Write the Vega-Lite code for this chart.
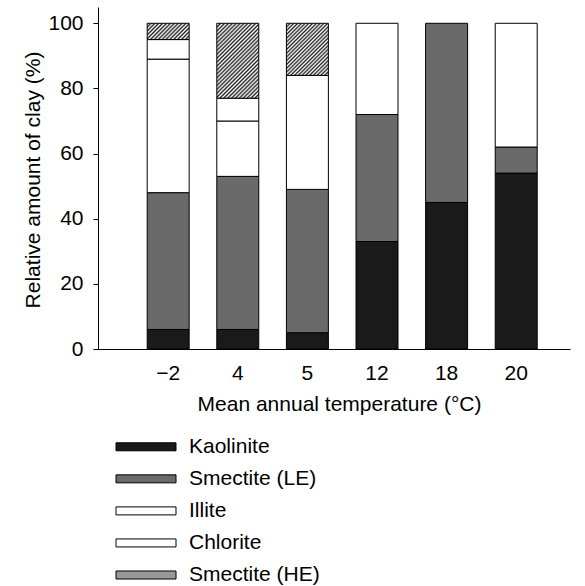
{
  "$schema": "https://vega.github.io/schema/vega-lite/v6.json",
  "width": 472,
  "height": 342,
  "autosize": {"type": "none"},
  "padding": {"left": 98, "top": 7, "right": 15, "bottom": 237},
  "background": "white",
  "config": {
    "view": {"stroke": null},
    "font": "Liberation Sans",
    "axis": {"domainColor": "black", "tickColor": "black", "labelColor": "black", "titleColor": "black", "labelFontSize": 21, "titleFontSize": 21, "titleFontWeight": "normal", "grid": false, "labelFont": "Liberation Sans", "titleFont": "Liberation Sans"}
  },
  "data": {
    "values": [
      {"temp": "−2", "mineral": "Kaolinite", "ord": 1, "pct": 6},
      {"temp": "−2", "mineral": "Smectite (LE)", "ord": 2, "pct": 42},
      {"temp": "−2", "mineral": "Illite", "ord": 3, "pct": 41},
      {"temp": "−2", "mineral": "Chlorite", "ord": 4, "pct": 6},
      {"temp": "−2", "mineral": "Smectite (HE)", "ord": 5, "pct": 5},
      {"temp": "4", "mineral": "Kaolinite", "ord": 1, "pct": 6},
      {"temp": "4", "mineral": "Smectite (LE)", "ord": 2, "pct": 47},
      {"temp": "4", "mineral": "Illite", "ord": 3, "pct": 17},
      {"temp": "4", "mineral": "Chlorite", "ord": 4, "pct": 7},
      {"temp": "4", "mineral": "Smectite (HE)", "ord": 5, "pct": 23},
      {"temp": "5", "mineral": "Kaolinite", "ord": 1, "pct": 5},
      {"temp": "5", "mineral": "Smectite (LE)", "ord": 2, "pct": 44},
      {"temp": "5", "mineral": "Illite", "ord": 3, "pct": 35},
      {"temp": "5", "mineral": "Smectite (HE)", "ord": 5, "pct": 16},
      {"temp": "12", "mineral": "Kaolinite", "ord": 1, "pct": 33},
      {"temp": "12", "mineral": "Smectite (LE)", "ord": 2, "pct": 39},
      {"temp": "12", "mineral": "Illite", "ord": 3, "pct": 28},
      {"temp": "18", "mineral": "Kaolinite", "ord": 1, "pct": 45},
      {"temp": "18", "mineral": "Smectite (LE)", "ord": 2, "pct": 55},
      {"temp": "20", "mineral": "Kaolinite", "ord": 1, "pct": 54},
      {"temp": "20", "mineral": "Smectite (LE)", "ord": 2, "pct": 8},
      {"temp": "20", "mineral": "Illite", "ord": 3, "pct": 38}
    ]
  },
  "mark": {"type": "bar", "stroke": "black", "strokeWidth": 1},
  "encoding": {
    "x": {
      "field": "temp",
      "type": "nominal",
      "sort": ["−2", "4", "5", "12", "18", "20"],
      "scale": {"paddingInner": 0.397, "paddingOuter": 0.589, "align": 0.6},
      "axis": {"title": "Mean annual temperature (°C)", "labelAngle": 0, "ticks": false, "tickSize": 0, "labelPadding": 13, "titleX": 241, "titleY": 61, "titleAlign": "center", "titleBaseline": "alphabetic"}
    },
    "y": {
      "field": "pct",
      "type": "quantitative",
      "stack": "zero",
      "scale": {"domain": [0, 105], "nice": false},
      "axis": {"values": [0, 20, 40, 60, 80, 100], "tickSize": 5, "labelPadding": 10, "title": "Relative amount of clay (%)", "titleX": -59, "titleY": 172.5, "titleAlign": "center", "titleBaseline": "alphabetic", "titleAngle": -90}
    },
    "color": {
      "condition": [
        {
          "test": "datum.mineral === 'Smectite (HE)' && datum.temp === '−2'",
          "value": {"gradient": "linear", "x1": 0, "y1": 0, "x2": 1.205, "y2": 0.467, "stops": [
            {"offset": 0, "color": "#222"}, {"offset": 0.0333, "color": "#fff"}, {"offset": 0.0667, "color": "#222"}, {"offset": 0.1, "color": "#fff"},
            {"offset": 0.1333, "color": "#222"}, {"offset": 0.1667, "color": "#fff"}, {"offset": 0.2, "color": "#222"}, {"offset": 0.2333, "color": "#fff"},
            {"offset": 0.2667, "color": "#222"}, {"offset": 0.3, "color": "#fff"}, {"offset": 0.3333, "color": "#222"}, {"offset": 0.3667, "color": "#fff"},
            {"offset": 0.4, "color": "#222"}, {"offset": 0.4333, "color": "#fff"}, {"offset": 0.4667, "color": "#222"}, {"offset": 0.5, "color": "#fff"},
            {"offset": 0.5333, "color": "#222"}, {"offset": 0.5667, "color": "#fff"}, {"offset": 0.6, "color": "#222"}, {"offset": 0.6333, "color": "#fff"},
            {"offset": 0.6667, "color": "#222"}, {"offset": 0.7, "color": "#fff"}, {"offset": 0.7333, "color": "#222"}, {"offset": 0.7667, "color": "#fff"},
            {"offset": 0.8, "color": "#222"}, {"offset": 0.8333, "color": "#fff"}, {"offset": 0.8667, "color": "#222"}, {"offset": 0.9, "color": "#fff"},
            {"offset": 0.9333, "color": "#222"}, {"offset": 0.9667, "color": "#fff"}, {"offset": 1, "color": "#222"}
          ]}
        },
        {
          "test": "datum.mineral === 'Smectite (HE)' && datum.temp === '4'",
          "value": {"gradient": "linear", "x1": 0, "y1": 0, "x2": 0.665, "y2": 1.188, "stops": [
            {"offset": 0, "color": "#222"}, {"offset": 0.0167, "color": "#fff"}, {"offset": 0.0333, "color": "#222"}, {"offset": 0.05, "color": "#fff"},
            {"offset": 0.0667, "color": "#222"}, {"offset": 0.0833, "color": "#fff"}, {"offset": 0.1, "color": "#222"}, {"offset": 0.1167, "color": "#fff"},
            {"offset": 0.1333, "color": "#222"}, {"offset": 0.15, "color": "#fff"}, {"offset": 0.1667, "color": "#222"}, {"offset": 0.1833, "color": "#fff"},
            {"offset": 0.2, "color": "#222"}, {"offset": 0.2167, "color": "#fff"}, {"offset": 0.2333, "color": "#222"}, {"offset": 0.25, "color": "#fff"},
            {"offset": 0.2667, "color": "#222"}, {"offset": 0.2833, "color": "#fff"}, {"offset": 0.3, "color": "#222"}, {"offset": 0.3167, "color": "#fff"},
            {"offset": 0.3333, "color": "#222"}, {"offset": 0.35, "color": "#fff"}, {"offset": 0.3667, "color": "#222"}, {"offset": 0.3833, "color": "#fff"},
            {"offset": 0.4, "color": "#222"}, {"offset": 0.4167, "color": "#fff"}, {"offset": 0.4333, "color": "#222"}, {"offset": 0.45, "color": "#fff"},
            {"offset": 0.4667, "color": "#222"}, {"offset": 0.4833, "color": "#fff"}, {"offset": 0.5, "color": "#222"}, {"offset": 0.5167, "color": "#fff"},
            {"offset": 0.5333, "color": "#222"}, {"offset": 0.55, "color": "#fff"}, {"offset": 0.5667, "color": "#222"}, {"offset": 0.5833, "color": "#fff"},
            {"offset": 0.6, "color": "#222"}, {"offset": 0.6167, "color": "#fff"}, {"offset": 0.6333, "color": "#222"}, {"offset": 0.65, "color": "#fff"},
            {"offset": 0.6667, "color": "#222"}, {"offset": 0.6833, "color": "#fff"}, {"offset": 0.7, "color": "#222"}, {"offset": 0.7167, "color": "#fff"},
            {"offset": 0.7333, "color": "#222"}, {"offset": 0.75, "color": "#fff"}, {"offset": 0.7667, "color": "#222"}, {"offset": 0.7833, "color": "#fff"},
            {"offset": 0.8, "color": "#222"}, {"offset": 0.8167, "color": "#fff"}, {"offset": 0.8333, "color": "#222"}, {"offset": 0.85, "color": "#fff"},
            {"offset": 0.8667, "color": "#222"}, {"offset": 0.8833, "color": "#fff"}, {"offset": 0.9, "color": "#222"}, {"offset": 0.9167, "color": "#fff"},
            {"offset": 0.9333, "color": "#222"}, {"offset": 0.95, "color": "#fff"}, {"offset": 0.9667, "color": "#222"}, {"offset": 0.9833, "color": "#fff"},
            {"offset": 1, "color": "#222"}
          ]}
        },
        {
          "test": "datum.mineral === 'Smectite (HE)'",
          "value": {"gradient": "linear", "x1": 0, "y1": 0, "x2": 0.881, "y2": 1.095, "stops": [
            {"offset": 0, "color": "#222"}, {"offset": 0.02, "color": "#fff"}, {"offset": 0.04, "color": "#222"}, {"offset": 0.06, "color": "#fff"},
            {"offset": 0.08, "color": "#222"}, {"offset": 0.1, "color": "#fff"}, {"offset": 0.12, "color": "#222"}, {"offset": 0.14, "color": "#fff"},
            {"offset": 0.16, "color": "#222"}, {"offset": 0.18, "color": "#fff"}, {"offset": 0.2, "color": "#222"}, {"offset": 0.22, "color": "#fff"},
            {"offset": 0.24, "color": "#222"}, {"offset": 0.26, "color": "#fff"}, {"offset": 0.28, "color": "#222"}, {"offset": 0.3, "color": "#fff"},
            {"offset": 0.32, "color": "#222"}, {"offset": 0.34, "color": "#fff"}, {"offset": 0.36, "color": "#222"}, {"offset": 0.38, "color": "#fff"},
            {"offset": 0.4, "color": "#222"}, {"offset": 0.42, "color": "#fff"}, {"offset": 0.44, "color": "#222"}, {"offset": 0.46, "color": "#fff"},
            {"offset": 0.48, "color": "#222"}, {"offset": 0.5, "color": "#fff"}, {"offset": 0.52, "color": "#222"}, {"offset": 0.54, "color": "#fff"},
            {"offset": 0.56, "color": "#222"}, {"offset": 0.58, "color": "#fff"}, {"offset": 0.6, "color": "#222"}, {"offset": 0.62, "color": "#fff"},
            {"offset": 0.64, "color": "#222"}, {"offset": 0.66, "color": "#fff"}, {"offset": 0.68, "color": "#222"}, {"offset": 0.7, "color": "#fff"},
            {"offset": 0.72, "color": "#222"}, {"offset": 0.74, "color": "#fff"}, {"offset": 0.76, "color": "#222"}, {"offset": 0.78, "color": "#fff"},
            {"offset": 0.8, "color": "#222"}, {"offset": 0.82, "color": "#fff"}, {"offset": 0.84, "color": "#222"}, {"offset": 0.86, "color": "#fff"},
            {"offset": 0.88, "color": "#222"}, {"offset": 0.9, "color": "#fff"}, {"offset": 0.92, "color": "#222"}, {"offset": 0.94, "color": "#fff"},
            {"offset": 0.96, "color": "#222"}, {"offset": 0.98, "color": "#fff"}, {"offset": 1, "color": "#222"}
          ]}
        }
      ],
      "field": "mineral",
      "type": "nominal",
      "scale": {
        "domain": ["Kaolinite", "Smectite (LE)", "Illite", "Chlorite", "Smectite (HE)"],
        "range": ["#1a1a1a", "#6a6a6a", "#ffffff", "#ffffff", "#999999"]
      },
      "legend": {
        "title": null,
        "orient": "none",
        "legendX": 37.5,
        "legendY": 429.3,
        "padding": 0,
        "direction": "vertical",
        "symbolType": "M-3.75,-0.5H3.75V0.5H-3.75Z",
        "symbolSize": 256,
        "symbolStrokeColor": "black",
        "symbolStrokeWidth": 1,
        "labelOffset": 32.5,
        "labelFontSize": 21,
        "labelFont": "Liberation Sans",
        "labelColor": "black",
        "rowPadding": 10.05,
        "labelLimit": 300,
        "encode": {
          "symbols": {
            "update": {
              "stroke": {"value": "black"},
              "strokeWidth": {"value": 1}
            }
          }
        }
      }
    },
    "order": {"field": "ord", "type": "quantitative"}
  }
}
